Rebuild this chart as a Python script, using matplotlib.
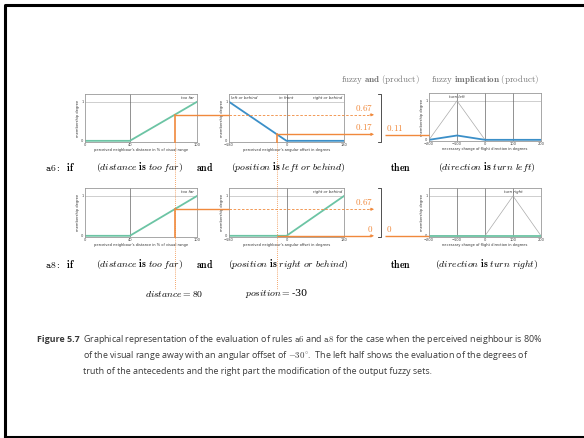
import matplotlib.pyplot as plt
import numpy as np
from matplotlib.lines import Line2D

plt.rcParams['mathtext.fontset'] = 'cm'

W, H = 584, 438

# input values of the example
distance = 80
position = -30

# membership functions (breakpoints)
dist_x = [0, 40, 100]
too_far = [0, 0, 1]
pos_x = [-180, 0, 180]
left_or_behind = [1, 0, 0]
right_or_behind = [0, 0, 1]
dir_x = [-200, -100, 0, 100, 200]
turn_left = [0, 1, 0, 0, 0]
turn_right = [0, 0, 0, 1, 0]

ORANGE = '#f0893c'
GREEN = '#6cc4a4'
BLUE = '#3b8fc8'

# fuzzy evaluation
mu_far = np.interp(distance, dist_x, too_far)
mu_left = np.interp(position, pos_x, left_or_behind)
mu_right = np.interp(position, pos_x, right_or_behind)
a6 = mu_far * mu_left
a8 = mu_far * mu_right


def fmt(v):
    return '0' if v == 0 else f'{v:.2f}'


fig = plt.figure(figsize=(W / 100, H / 100), dpi=100)
fig.patch.set_facecolor('white')


def add_ax(l, t, r, b):
    return fig.add_axes([l / W, 1 - b / H, (r - l) / W, (b - t) / H])


def mf_axes(ax, xlim, xticks, xlabel, vlines, labels):
    ax.set_xlim(xlim)
    ax.set_ylim(-0.03, 1.2)
    ax.set_xticks(xticks)
    ax.set_yticks([0, 1])
    ax.tick_params(labelsize=2.6, length=0, pad=1, colors='#444444')
    ax.set_xlabel(xlabel, fontsize=2.6, labelpad=0.6, color='#333333')
    ax.set_ylabel('membership degree', fontsize=2.6, labelpad=1, color='#333333')
    ax.axhline(1, color='#bbbbbb', lw=0.5)
    for v in vlines:
        ax.axvline(v, color='#666666', lw=0.5)
    for s in ax.spines.values():
        s.set_color('#999999')
        s.set_linewidth(0.6)
    for x, txt, ha in labels:
        ax.text(x, 1.09, txt, fontsize=2.8, style='italic', ha=ha, va='center',
                color='#333333')


dist_label = "perceived neighbour's distance in % of visual range"
pos_label = "perceived neighbour's angular offset in degrees"
dir_label = "necessary change of flight direction in degrees"

# row a6
A1 = add_ax(85, 94, 197, 142)
mf_axes(A1, (0, 100), [0, 40, 100], dist_label, [40], [(97, 'too far', 'right')])
A1.plot(dist_x, too_far, color=GREEN, lw=1.3)

B1 = add_ax(229, 94, 344, 142)
mf_axes(B1, (-180, 180), [-180, 0, 180], pos_label, [0],
        [(-174, 'left or behind', 'left'), (0, 'in front', 'center'),
         (174, 'right or behind', 'right')])
B1.plot(pos_x, left_or_behind, color=BLUE, lw=1.3)

C1 = add_ax(429, 93, 541, 141)
mf_axes(C1, (-200, 200), [-200, -100, 0, 100, 200], dir_label, [-100, 0, 100],
        [(-100, 'turn left', 'center')])
C1.plot(dir_x, turn_left, color='#aaaaaa', lw=0.5)
C1.plot(dir_x, np.array(turn_left) * a6, color=BLUE, lw=1.3)

# row a8
A2 = add_ax(85, 188, 197, 237)
mf_axes(A2, (0, 100), [0, 40, 100], dist_label, [40], [(97, 'too far', 'right')])
A2.plot(dist_x, too_far, color=GREEN, lw=1.3)

B2 = add_ax(229, 188, 344, 237)
mf_axes(B2, (-180, 180), [-180, 0, 180], pos_label, [0],
        [(174, 'right or behind', 'right')])
B2.plot(pos_x, right_or_behind, color=GREEN, lw=1.3)

C2 = add_ax(429, 188, 541, 237)
mf_axes(C2, (-200, 200), [-200, -100, 0, 100, 200], dir_label, [-100, 0, 100],
        [(100, 'turn right', 'center')])
C2.plot(dir_x, turn_right, color='#aaaaaa', lw=0.5)
C2.plot(dir_x, np.array(turn_right) * a8, color=GREEN, lw=1.3)

# overlay in pixel coordinates
ov = fig.add_axes([0, 0, 1, 1])
ov.set_xlim(0, W)
ov.set_ylim(H, 0)
ov.axis('off')
ov.patch.set_visible(False)


def px(ax, x, y, axes_coords=False):
    tr = ax.transAxes if axes_coords else ax.transData
    return ov.transData.inverted().transform(tr.transform((x, y)))


arrow_x = 374
end_y = 289
brk_x = 381


def hline(x0, x1, y, ls='-'):
    ov.plot([x0, x1], [y, y], color=ORANGE, lw=1.0 if ls == '-' else 0.7, ls=ls,
            solid_capstyle='butt')


def arrow_head(y):
    ov.annotate('', xy=(arrow_x, y), xytext=(arrow_x - 4, y),
                arrowprops=dict(arrowstyle='-|>', color=ORANGE, lw=0.6,
                                mutation_scale=4, shrinkA=0, shrinkB=0))


def vline_solid(ax, x, mu):
    top = px(ax, x, mu)
    bot = px(ax, 0, 0, axes_coords=True)
    ov.plot([top[0], top[0]], [top[1], bot[1]], color=ORANGE, lw=1.2)
    return top


# dotted verticals for the inputs
for ax, x in [(A1, distance), (B1, position)]:
    p = px(ax, x, 0)
    b = px(ax, 0, 0, axes_coords=True)
    ov.plot([p[0], p[0]], [b[1], end_y], color=ORANGE, lw=0.6, ls=(0, (1, 1.5)))

rows = [(A1, B1, C1, mu_far, mu_left, a6), (A2, B2, C2, mu_far, mu_right, a8)]
for A, B, C, m1, m2, res in rows:
    pa = vline_solid(A, distance, m1)
    b_left = px(B, 0, 0, axes_coords=True)[0]
    hline(pa[0], b_left, pa[1])
    ov.plot([b_left, arrow_x - 3], [pa[1], pa[1]], color=ORANGE, lw=0.6,
            ls=(0, (3, 2)))
    arrow_head(pa[1])
    ov.text(arrow_x - 1, pa[1] - 2, '$' + fmt(m1) + '$', color=ORANGE,
            fontsize=6.5, ha='right', va='bottom')

    pb = vline_solid(B, position, m2) if m2 > 0 else px(B, position, m2)
    hline(pb[0], arrow_x - 3, pb[1])
    arrow_head(pb[1])
    ov.text(arrow_x - 1, pb[1] - 2, '$' + fmt(m2) + '$', color=ORANGE,
            fontsize=6.5, ha='right', va='bottom')

    # bracket
    t = px(B, 0, 1, axes_coords=True)[1]
    bt = px(B, 0, 0, axes_coords=True)[1]
    ov.plot([brk_x - 3, brk_x, brk_x, brk_x - 3], [t, t, bt, bt], color='#333333',
            lw=0.6)

    pc = px(C, -200, res)
    hline(brk_x + 4, pc[0], pc[1])
    ov.text(brk_x + 5, pc[1] - 2, '$' + fmt(res) + '$', color=ORANGE,
            fontsize=6.5, ha='left', va='bottom')

# headings
ov.text(380, 79, r'$\mathrm{fuzzy}\ \mathbf{and}\ \mathrm{(product)}$', color='#777777',
        fontsize=6.5, ha='center', va='center')
ov.text(485, 79, r'$\mathrm{fuzzy}\ \mathbf{implication}\ \mathrm{(product)}$',
        color='#777777', fontsize=6.5, ha='center', va='center')

# rule text
rule_rows = [
    (167, 'a6', r'$(\mathit{position}\ \mathbf{is}\ \mathit{left\ or\ behind})$',
     r'$(\mathit{direction}\ \mathbf{is}\ \mathit{turn\ left})$'),
    (264, 'a8', r'$(\mathit{position}\ \mathbf{is}\ \mathit{right\ or\ behind})$',
     r'$(\mathit{direction}\ \mathbf{is}\ \mathit{turn\ right})$'),
]
for y, name, pos_txt, dir_txt in rule_rows:
    ov.text(45, y, r'$\mathtt{' + name + r'}\mathbf{:}\ \ \mathbf{if}$', fontsize=7,
            ha='left', va='center')
    ov.text(140, y, r'$(\mathit{distance}\ \mathbf{is}\ \mathit{too\ far})$',
            fontsize=7, ha='center', va='center')
    ov.text(205, y, r'$\mathbf{and}$', fontsize=7, ha='center', va='center')
    ov.text(288, y, pos_txt, fontsize=7, ha='center', va='center')
    ov.text(401, y, r'$\mathbf{then}$', fontsize=7, ha='center', va='center')
    ov.text(487, y, dir_txt, fontsize=7, ha='center', va='center')

ov.text(px(A1, distance, 0)[0], 294, r'$\mathit{distance} = 80$', fontsize=7,
        ha='center', va='center')
ov.text(px(B1, position, 0)[0], 294, r'$\mathit{position} = $-30', fontsize=7,
        ha='center', va='center', family='DejaVu Serif')

# caption
cap_font = 'Open Sans'
cap_color = '#3a3a3a'
ov.text(37, 339, 'Figure 5.7', fontsize=6.4, family=cap_font, weight='bold',
        ha='left', va='center', color=cap_color)
cap_lines = [
    r'Graphical representation of the evaluation of rules $\mathtt{a6}$ and '
    r'$\mathtt{a8}$ for the case when the perceived neighbour is 80%',
    r'of the visual range away with an angular offset of $-30^{\circ}$.  The left '
    r'half shows the evaluation of the degrees of',
    'truth of the antecedents and the right part the modification of the output fuzzy sets.',
]
for i, line in enumerate(cap_lines):
    ov.text(83, 339 + 16 * i, line, fontsize=6.4, family=cap_font, ha='left',
            va='center', color=cap_color)

# page frame
ov.add_line(Line2D([4.5, 4.5, W], [H, 4.5, 4.5], color='black', lw=2.2))
ov.add_line(Line2D([4.5, W], [436.5, 436.5], color='black', lw=2.2))

fig.savefig('out.png', dpi=100, facecolor='white')
